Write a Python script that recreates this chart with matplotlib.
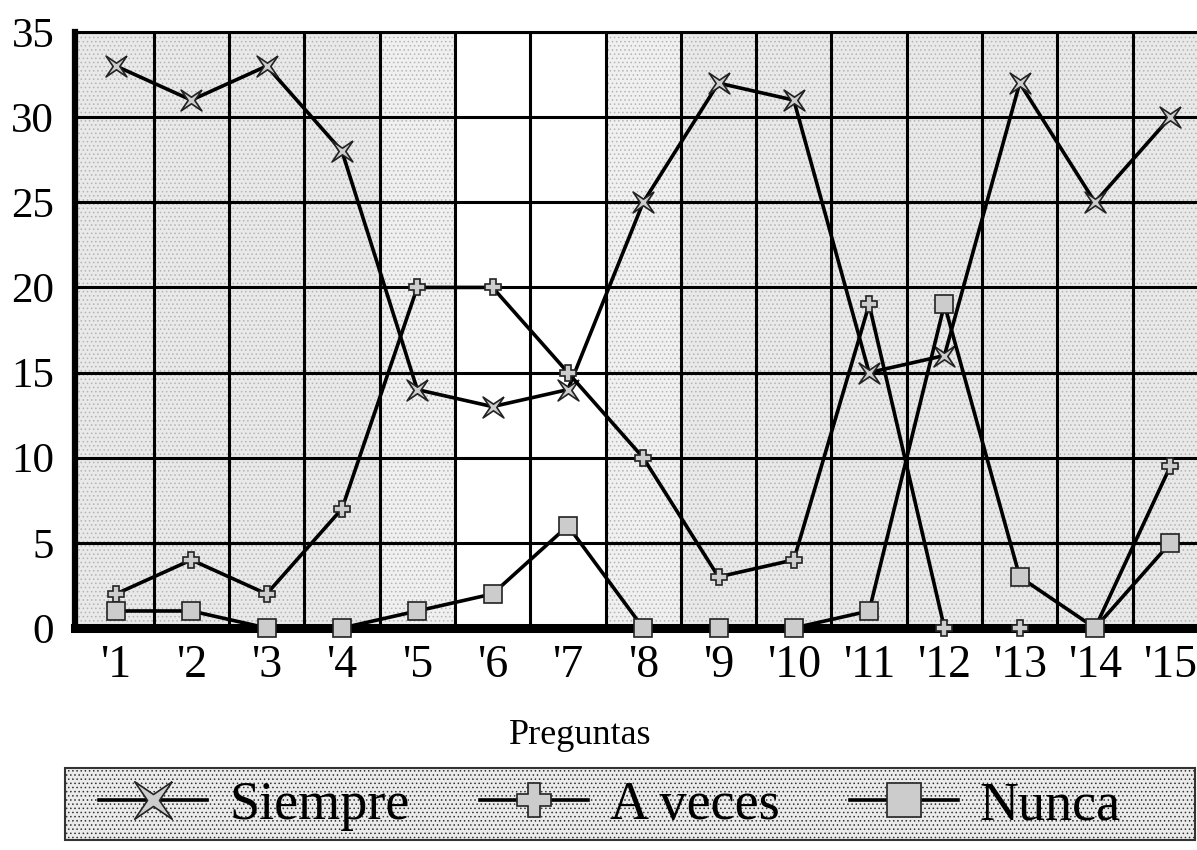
import numpy as np
import matplotlib
matplotlib.use("Agg")
import matplotlib.pyplot as plt
from matplotlib.lines import Line2D
from matplotlib.patches import Rectangle

plt.rcParams['font.family'] = ['Liberation Serif', 'DejaVu Serif']
plt.rcParams['hatch.linewidth'] = 0.6

# data
preguntas = list(range(1, 16))
etiquetas = ["'%d" % p for p in preguntas]
siempre = [33, 31, 33, 28, 14, 13, 14, 25, 32, 31, 15, 16, 32, 25, 30]
a_veces = [2, 4, 2, 7, 20, 20, 15, 10, 3, 4, 19, 0, 0, 0, 9.5]
nunca = [1, 1, 0, 0, 1, 2, 6, 0, 0, 0, 1, 19, 3, 0, 5]
yticks = [0, 5, 10, 15, 20, 25, 30, 35]

# shade of each question column
sombra = {5: '#f0f0f0', 6: 'white', 7: 'white', 8: '#f0f0f0'}

estrella = [(1, 1), (0, 0.32), (-1, 1), (-0.32, 0), (-1, -1), (0, -0.32),
            (1, -1), (0.32, 0), (1, 1)]

W, H = 1197, 850
fig = plt.figure(figsize=(W / 100, H / 100), dpi=100)
ax = fig.add_axes([75 / W, 1 - 628 / H, (1208 - 75) / W, (628 - 32) / H])

ax.set_xlim(0.455, 15.5)
ax.set_ylim(0, 35)

# stippled background
for p in preguntas:
    c = sombra.get(p, '#e9e9e9')
    lo = ax.get_xlim()[0] if p == 1 else p - 0.5
    if c == 'white':
        ax.axvspan(lo, p + 0.5, facecolor='white', lw=0, zorder=0)
    else:
        ax.axvspan(lo, p + 0.5, facecolor=c, edgecolor='#b4b4b4',
                   hatch='....', lw=0, zorder=0)

ax.set_xticks(preguntas)
ax.set_xticklabels(etiquetas)
ax.set_xticks(np.arange(1.5, 15, 1), minor=True)
ax.set_yticks(yticks)
ax.tick_params(which='both', length=0)
ax.tick_params(axis='x', pad=12, labelsize=33)
ax.tick_params(axis='y', pad=15, labelsize=31)
ax.grid(which='minor', axis='x', color='black', lw=2.2, zorder=1)
ax.grid(which='major', axis='y', color='black', lw=2.2, zorder=1)
ax.set_axisbelow(False)

ax.spines['left'].set_linewidth(4.5)
ax.spines['bottom'].set_linewidth(6.5)
ax.spines['top'].set_linewidth(2.2)
ax.spines['right'].set_visible(False)
for s in ax.spines.values():
    s.set_zorder(3)

gris = '#cccccc'
estilos = [
    ('Siempre', siempre, estrella, 15, 27),
    ('A veces', a_veces, 'P', 12, 25),
    ('Nunca', nunca, 's', 13, 24),
]
handles = []
for nombre, vals, mk, ms, ms_leg in estilos:
    ax.plot(preguntas, vals, color='black', lw=2.6, marker=mk, markersize=ms,
            markerfacecolor=gris, markeredgecolor='#222222', markeredgewidth=1.2,
            clip_on=False, zorder=4)
    handles.append(Line2D([], [], color='black', lw=2.6, marker=mk, markersize=ms_leg,
                          markerfacecolor=gris, markeredgecolor='#222222',
                          markeredgewidth=1.2, label=nombre))

fig.text(580 / W, 1 - 735 / H, 'Preguntas', fontsize=26, ha='center', va='center')

# legend box
caja = Rectangle((65 / W, 1 - 840 / H), (1195 - 65) / W, 72 / H, transform=fig.transFigure,
                 facecolor='#ebebeb', edgecolor='#333333', lw=1.5, hatch='....')
fig.patches.append(caja)

fig.legend(handles=handles, loc='center', bbox_to_anchor=(610 / W, 1 - 806 / H),
           ncol=3, frameon=False, fontsize=39, handlelength=2.0, handletextpad=0.4,
           columnspacing=1.3)

fig.savefig('out.png', dpi=100)
